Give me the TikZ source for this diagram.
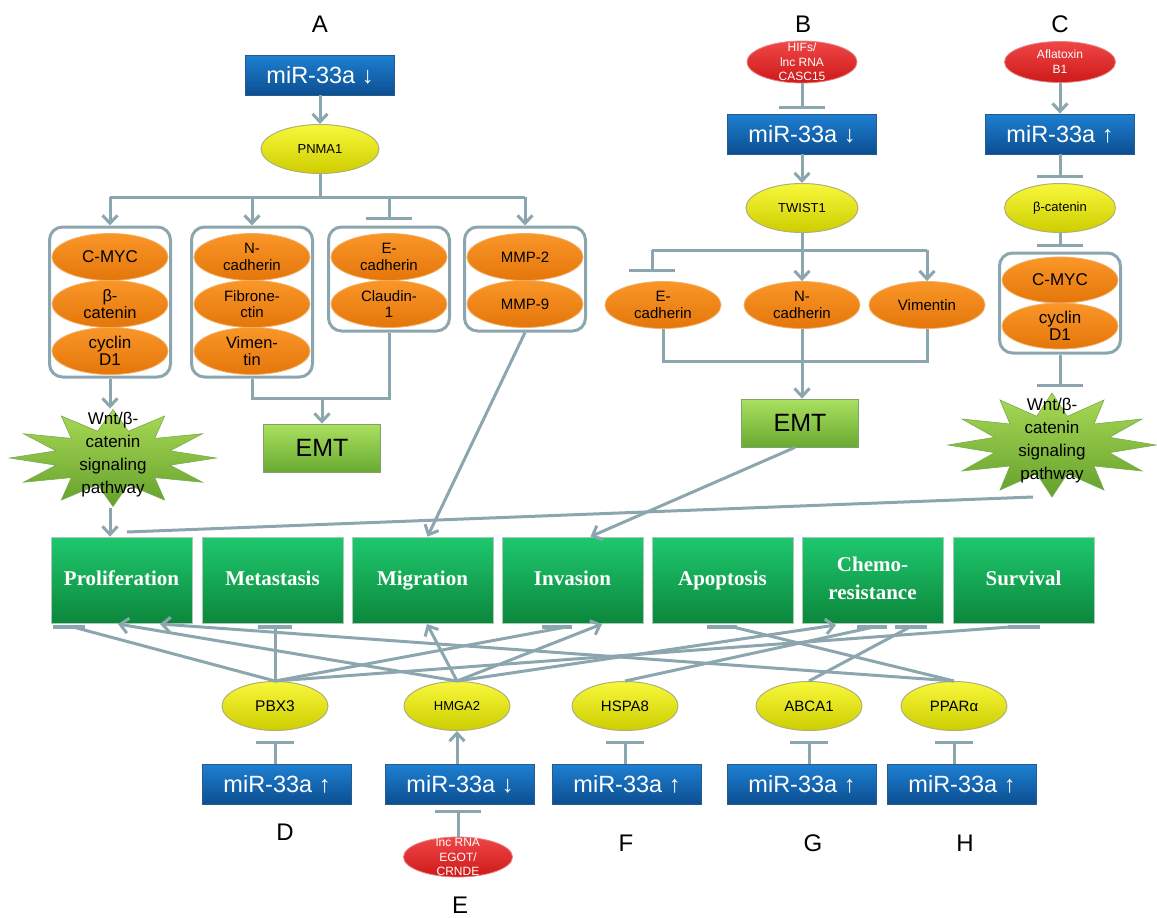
\documentclass[tikz,border=0pt]{standalone}
\usepackage{fontspec}
\setmainfont{Liberation Sans}
\newfontfamily\outfont{Liberation Serif}
\usetikzlibrary{shapes.geometric,arrows.meta,calc}
\definecolor{lineC}{RGB}{140,166,175}
\definecolor{blueT}{RGB}{30,128,210}
\definecolor{blueB}{RGB}{12,78,145}
\definecolor{blueE}{RGB}{40,90,140}
\definecolor{yelT}{RGB}{248,248,60}
\definecolor{yelB}{RGB}{205,205,0}
\definecolor{yelE}{RGB}{175,175,120}
\definecolor{oraT}{RGB}{250,150,40}
\definecolor{oraB}{RGB}{228,118,10}
\definecolor{oraE}{RGB}{240,175,100}
\definecolor{redT}{RGB}{240,70,70}
\definecolor{redB}{RGB}{205,25,25}
\definecolor{redE}{RGB}{230,130,130}
\definecolor{outT}{RGB}{30,200,110}
\definecolor{outB}{RGB}{12,135,60}
\definecolor{outE}{RGB}{170,200,180}
\definecolor{emtT}{RGB}{170,224,95}
\definecolor{emtB}{RGB}{105,170,50}
\definecolor{emtE}{RGB}{130,160,110}
\definecolor{starT}{RGB}{170,218,85}
\definecolor{starB}{RGB}{100,160,45}
\definecolor{starE}{RGB}{120,170,80}
\begin{document}
\begin{tikzpicture}[x=1pt,y=-1pt,
  conn/.style={draw=lineC, line width=3pt},
  arr/.style={conn, -{Straight Barb[length=8pt,width=15pt]}},
  inh/.style={conn, -{Bar[width=46pt]}},
  inhs/.style={conn, -{Bar[width=38pt]}},
  tbar/.style={conn, line width=3.5pt},
  mir/.style={rectangle, minimum width=149pt, minimum height=40pt, inner sep=0pt,
    top color=blueT, bottom color=blueB, draw=blueE, line width=0.8pt, text=white,
    font=\fontsize{23.5}{24}\selectfont},
  yel/.style={ellipse, minimum width=112pt, minimum height=49pt, inner sep=0pt,
    top color=yelT, bottom color=yelB, draw=yelE, line width=1pt,
    font=\fontsize{13}{13}\selectfont},
  ora/.style={ellipse, minimum width=116pt, minimum height=47pt, inner sep=0pt,
    top color=oraT, bottom color=oraB, draw=oraE, line width=0.8pt, align=center,
    font=\fontsize{15}{16.5}\selectfont},
  redell/.style={ellipse, minimum width=110pt, minimum height=42pt, inner sep=0pt,
    top color=redT, bottom color=redB, draw=redE, line width=0.8pt},
  redtext/.style={align=center, text=white, inner sep=0pt, font=\fontsize{12}{14.5}\selectfont},
  grp/.style={rectangle, rounded corners=13pt, draw=lineC, line width=3pt, fill=white,
    minimum width=121pt, inner sep=0pt},
  emtbox/.style={rectangle, minimum width=117pt, minimum height=48pt, inner sep=0pt,
    top color=emtT, bottom color=emtB, draw=emtE, line width=0.8pt,
    font=\fontsize{25}{25}\selectfont},
  outbox/.style={rectangle, minimum width=141pt, minimum height=86pt, inner sep=0pt,
    top color=outT, bottom color=outB, draw=outE, line width=0.8pt, text=white, align=center,
    font=\outfont\bfseries\fontsize{21}{28}\selectfont},
  starsh/.style={star, star points=12, star point ratio=1.75, inner sep=0pt,
    top color=starT, bottom color=starB, draw=starE, line width=0.6pt},
  startext/.style={align=center, inner sep=0pt, font=\fontsize{17}{23}\selectfont},
  lab/.style={font=\fontsize{24}{24}\selectfont, inner sep=0pt}
]
\useasboundingbox (0,0) rectangle (1157,918);

% ---------------- outcome boxes
\node[outbox] (prol) at (121.5,580) {\strut Proliferation};
\node[outbox] (meta) at (272.5,580) {\strut Metastasis};
\node[outbox] (migr) at (422.5,580) {\strut Migration};
\node[outbox] (inva) at (572.5,580) {\strut Invasion};
\node[outbox] (apop) at (722.5,580) {\strut Apoptosis};
\node[outbox] (chem) at (872.5,580) {\strut Chemo-\\\strut resistance};
\node[outbox] (surv) at (1023.5,580) {\strut Survival};

% ---------------- section A
\node[lab] (labA) at (320,24) {A};
\node[mir] (mirA) at (320,75) {miR-33a ↓};
\node[yel, minimum width=118pt] (pnma) at (320,149) {PNMA1};
\coordinate (brA) at (320,197);
\coordinate (brL) at (110,197);
\coordinate (brR) at (525,197);
\coordinate (brI) at (389,197);
\coordinate (barI) at (389,220);
\node[grp, minimum height=150pt] (g1) at (110,302) {};
\node[grp, minimum height=150pt] (g2) at (252,302) {};
\node[grp, minimum height=104pt] (g3) at (389,279) {};
\node[grp, minimum height=104pt] (g4) at (525,279) {};
\node[ora, font=\fontsize{17}{17}\selectfont] (cmycA) at (110,257) {C-MYC};
\node[ora, font=\fontsize{16.5}{17}\selectfont] (bcatA) at (110,304) {β-\\catenin};
\node[ora, font=\fontsize{17}{17.5}\selectfont] (cycA) at (110,351) {cyclin\\D1};
\node[ora] (ncadA) at (252,257) {N-\\cadherin};
\node[ora] (fibA) at (252,304) {Fibrone-\\ctin};
\node[ora, font=\fontsize{16.5}{17}\selectfont] (vimA) at (252,351) {Vimen-\\tin};
\node[ora] (ecadA) at (389,257) {E-\\cadherin};
\node[ora] (cldA) at (389,304) {Claudin-\\1};
\node[ora] (mmp2) at (525,257) {MMP-2};
\node[ora] (mmp9) at (525,304) {MMP-9};
\node[emtbox] (emtA) at (322,448) {EMT};
\node[starsh, minimum size=97pt, xscale=2.13] (starA) at (113,458) {};
\node[startext] (wntA) at (113,455) {Wnt/β-\\catenin\\signaling\\pathway};
\coordinate (jR) at (389,398);
\coordinate (sA) at (110,508);

\draw[arr] (mirA) -- (pnma);
\draw[conn] (pnma.south) -- (brA);
\draw[conn] (brL) -- (brR);
\draw[arr] (brL) -- (g1.north);
\draw[arr] (brL -| g2.north) -- (g2.north);
\draw[inh] (brI) -- (barI);
\draw[arr] (brR) -- (g4.north);
\draw[conn] (g2.south) |- (jR) -- (g3.south);
\draw[arr] (jR -| emtA.north) -- (emtA.north);
\draw[arr] (g1.south) -- (g1.south |- starA.north);
\draw[arr] (sA) -- (sA |- prol.north);
\draw[arr] (g4.south) -- ([xshift=5pt]migr.north);

% ---------------- section B
\node[lab] (labB) at (803,24) {B};
\node[redell] (hif) at (802,62) {};
\node[redtext] (hifT) at (802,62) {HIFs/\\lnc RNA\\CASC15};
\node[mir] (mirB) at (802,134) {miR-33a ↓};
\node[yel] (twist) at (802,208) {TWIST1};
\coordinate (brB) at (802,250);
\coordinate (brBL) at (652,250);
\coordinate (brBR) at (927,250);
\coordinate (barB) at (652,272);
\node[ora] (ecadB) at (663,305) {E-\\cadherin};
\node[ora] (ncadB) at (802,305) {N-\\cadherin};
\node[ora] (vimB) at (927,305) {Vimentin};
\coordinate (jB) at (927,361);
\node[emtbox] (emtBx) at (800,423) {EMT};

\draw[inh] (hif.south) -- ([yshift=5pt]mirB.north);
\draw[arr] (mirB) -- (twist);
\draw[conn] (twist.south) -- (brB);
\draw[conn] (brBL) -- (brBR);
\draw[inh] (brBL) -- (barB);
\draw[arr] (brB) -- (ncadB.north);
\draw[arr] (brBR) -- (vimB.north);
\draw[conn] (ecadB.south) |- (jB) -- (vimB.south);
\draw[arr] (ncadB.south) -- (ncadB.south |- emtBx.north);
\draw[arr] ([xshift=-5pt]emtBx.south) -- ([xshift=18pt]inva.north);

% ---------------- section C
\node[lab] (labC) at (1060,24) {C};
\node[redell, minimum width=111pt, minimum height=41pt] (afla) at (1060,62) {};
\node[redtext, font=\fontsize{12}{15}\selectfont] (aflaT) at (1060,62) {Aflatoxin\\B1};
\node[mir] (mirC) at (1060,134) {miR-33a ↑};
\node[yel, minimum width=111pt] (bcatC) at (1060,208) {β-catenin};
\node[grp, minimum height=100pt] (gC) at (1060,303) {};
\node[ora, minimum height=46pt, font=\fontsize{17}{17}\selectfont] (cmycC) at (1060,280) {C-MYC};
\node[ora, minimum height=46pt, font=\fontsize{17}{17.5}\selectfont] (cycC) at (1060,326) {cyclin\\D1};
\coordinate (barC) at (1060,387);
\node[starsh, minimum size=104pt, xscale=2.0] (starC) at (1052,445) {};
\node[startext] (wntC) at (1052,441) {Wnt/β-\\catenin\\signaling\\pathway};
\coordinate (sC) at (1033,497);
\coordinate (pE) at (127,532);

\draw[arr] (afla.south) -- (afla.south |- mirC.north);
\draw[inh] (mirC.south) -- ([yshift=5pt]bcatC.north);
\draw[inh] (bcatC.south) -- ([yshift=5pt]gC.north);
\draw[inh] (gC.south) -- (barC);
\draw[conn] (sC) -- (pE);

% ---------------- bottom row
\node[yel, minimum width=106pt, font=\fontsize{15.5}{15}\selectfont] (pbx) at (275,706) {PBX3};
\node[yel, minimum width=106pt, font=\fontsize{13}{13}\selectfont] (hmga) at (457,706) {HMGA2};
\node[yel, minimum width=106pt, font=\fontsize{15}{15}\selectfont] (hspa) at (625,706) {HSPA8};
\node[yel, minimum width=106pt, font=\fontsize{15}{15}\selectfont] (abca) at (809,706) {ABCA1};
\node[yel, minimum width=106pt, font=\fontsize{15}{15}\selectfont] (ppar) at (954,706) {PPARα};
\node[mir] (mirD) at (277,784) {miR-33a ↑};
\node[mir] (mirE) at (460,784) {miR-33a ↓};
\node[mir] (mirF) at (627,784) {miR-33a ↑};
\node[mir] (mirG) at (802,784) {miR-33a ↑};
\node[mir] (mirH) at (962,784) {miR-33a ↑};
\node[redell, minimum width=109pt, minimum height=40pt] (lnc) at (458,857) {};
\node[redtext] (lncT) at (458,857) {lnc RNA\\EGOT/\\CRNDE};
\node[lab] (labD) at (285,832) {D};
\node[lab] (labE) at (460,905) {E};
\node[lab] (labF) at (626,843) {F};
\node[lab] (labG) at (813,843) {G};
\node[lab] (labH) at (965,843) {H};

\draw[inhs] (mirD.north -| pbx.south) -- ([yshift=-9.5pt]pbx.south);
\draw[arr] (mirE.north -| hmga.south) -- (hmga.south);
\draw[inhs] (mirF.north -| hspa.south) -- ([yshift=-9.5pt]hspa.south);
\draw[inhs] (mirG.north -| abca.south) -- ([yshift=-9.5pt]abca.south);
\draw[inhs] (mirH.north -| ppar.south) -- ([yshift=-9.5pt]ppar.south);
\draw[inh] (lnc.north) -- ([yshift=-6pt]mirE.south -| lnc.north);

% targets under outcome boxes
\coordinate (tP1) at (73,627);
\coordinate (tM) at (275,627);
\coordinate (tI) at (566,627);
\coordinate (tS) at (1010,627);
\coordinate (aP1) at (118,624);
\coordinate (aMig) at (427,624);
\coordinate (aInv) at (602,624);
\coordinate (aCh) at (836,625);
\coordinate (tCh1) at (874,627);
\coordinate (tCh2) at (910,627);
\coordinate (tA) at (733,627);
\coordinate (aP2) at (160,624);

\draw[conn] (pbx.north) -- (tP1);
\draw[tbar] ([xshift=-20pt]tP1) -- ([xshift=12pt]tP1);
\draw[conn] (pbx.north) -- (tM);
\draw[tbar] ([xshift=-17pt]tM) -- ([xshift=17pt]tM);
\draw[conn] (pbx.north) -- (tI);
\draw[tbar] ([xshift=-24pt]tI) -- ([xshift=6pt]tI);
\draw[conn] (pbx.north) -- (tS);
\draw[tbar] ([xshift=-2pt]tS) -- ([xshift=30pt]tS);
\draw[arr] (hmga.north) -- (aP1);
\draw[arr] (hmga.north) -- (aMig);
\draw[arr] (hmga.north) -- (aInv);
\draw[arr] (hmga.north) -- (aCh);
\draw[conn] (hspa.north) -- (tCh1);
\draw[tbar] ([xshift=-17pt]tCh1) -- ([xshift=13pt]tCh1);
\draw[conn] (abca.north) -- (tCh2);
\draw[tbar] ([xshift=-15pt]tCh2) -- ([xshift=17pt]tCh2);
\draw[conn] (ppar.north) -- (tA);
\draw[tbar] ([xshift=-26pt]tA) -- ([xshift=4pt]tA);
\draw[arr] (ppar.north) -- (aP2);
\end{tikzpicture}
\end{document}
